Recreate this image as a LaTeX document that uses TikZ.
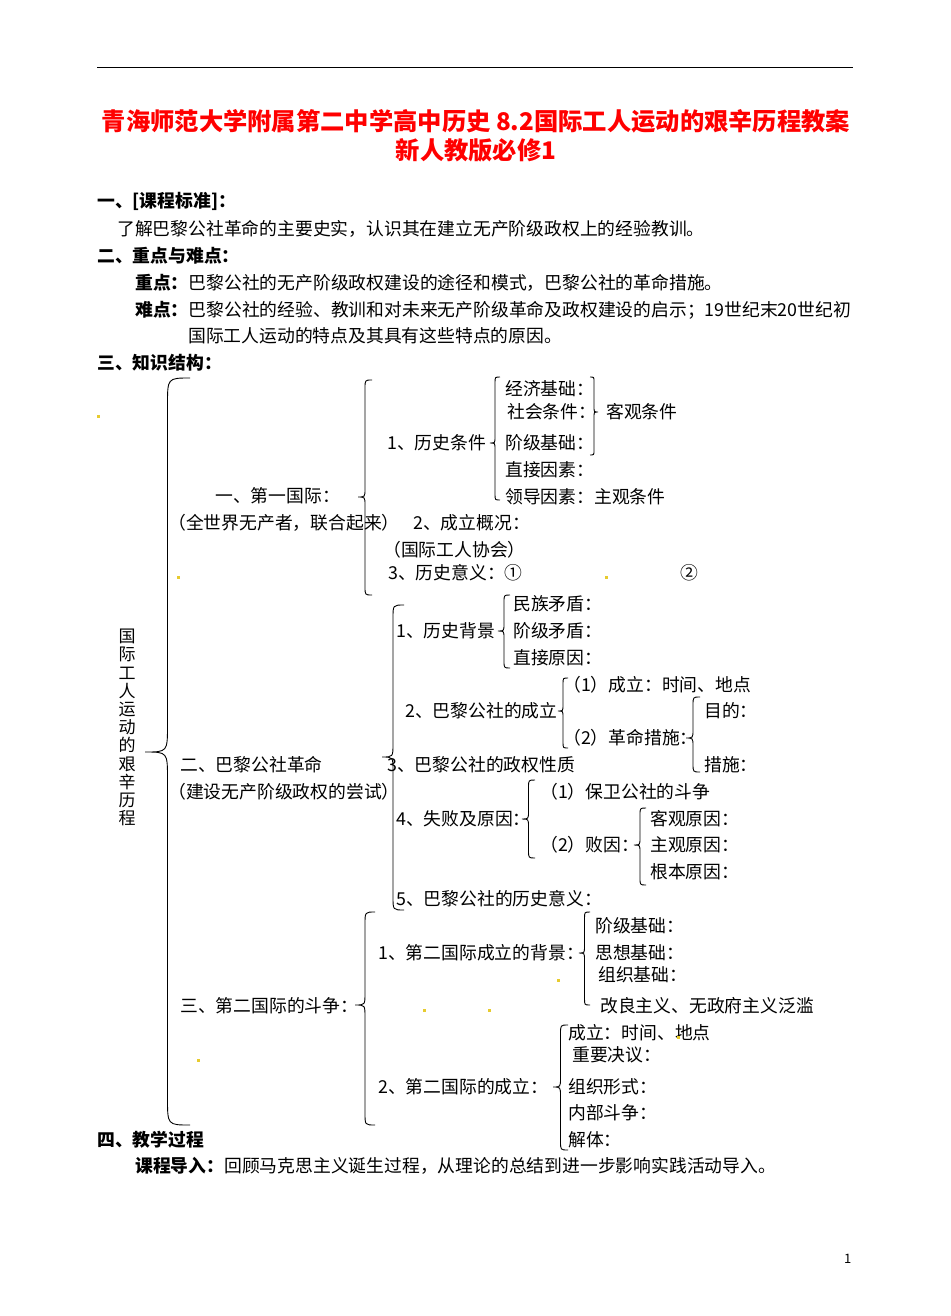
\documentclass[tikz,border=0pt]{standalone}
\usepackage{fontspec}
\setmainfont{Noto Sans CJK SC}
\newcommand{\brc}[5]{% tip x, width (neg = points right), top, tip y, bottom
\draw[line width=0.9pt] ({#1+#2},#3) .. controls ({#1+#2/2},#3) and ({#1+#2/2},#3) .. ({#1+#2/2},{#3+abs(#2)*0.6})
 -- ({#1+#2/2},{#4-abs(#2)*0.6}) .. controls ({#1+#2/2},#4) and ({#1+#2/2},#4) .. (#1,#4)
 .. controls ({#1+#2/2},#4) and ({#1+#2/2},#4) .. ({#1+#2/2},{#4+abs(#2)*0.6})
 -- ({#1+#2/2},{#5-abs(#2)*0.6}) .. controls ({#1+#2/2},#5) and ({#1+#2/2},#5) .. ({#1+#2},#5);}
\begin{document}
\begin{tikzpicture}[x=1pt,y=-1pt,
  t/.style={anchor=west,inner sep=0pt,font=\fontsize{17.8}{19}\selectfont},
  b/.style={t,font=\fontsize{17.8}{19}\selectfont\bfseries},
  dot/.style={fill=yellow!60!brown,draw=none}]
\useasboundingbox[fill=white] (0,0) rectangle (950,1316);
\draw[line width=1pt] (97,68) -- (853,68);
\node[anchor=center,text=red,font=\fontsize{24.3}{28}\selectfont\bfseries] (ti1) at (476,121) {青海师范大学附属第二中学高中历史 8.2国际工人运动的艰辛历程教案};
\node[anchor=center,text=red,font=\fontsize{24.3}{28}\selectfont\bfseries] (ti2) at (476,150) {新人教版必修1};
\node[b] (h1) at (97,201) {一、[课程标准]：};
\node[t] (p1) at (117,229) {了解巴黎公社革命的主要史实，认识其在建立无产阶级政权上的经验教训。};
\node[b] (h2) at (97,256) {二、重点与难点：};
\node[t] (p2) at (135,283) {\bfseries 重点：\mdseries 巴黎公社的无产阶级政权建设的途径和模式，巴黎公社的革命措施。};
\node[t] (p3) at (135,310) {\bfseries 难点：\mdseries 巴黎公社的经验、教训和对未来无产阶级革命及政权建设的启示；19世纪末20世纪初};
\node[t] (p4) at (188,336) {国际工人运动的特点及其具有这些特点的原因。};
\node[b] (h3) at (97,363) {三、知识结构：};
\node[t,anchor=north,align=center,font=\fontsize{17}{18.2}\selectfont] (v) at (127,629) {国\\际\\工\\人\\运\\动\\的\\艰\\辛\\历\\程};
\brc{145}{45}{378}{752}{1125}
% first international
\node[t] (a0) at (215,496) {一、第一国际：};
\node[t] (a0b) at (168,523) {（全世界无产者，联合起来）};
\brc{358}{14}{380}{497}{595}
\node[t] (a1) at (387,443) {1、历史条件};
\brc{490}{10}{377}{443}{500}
\node[t] (a11) at (505,389) {经济基础：};
\node[t] (a12) at (507,412) {社会条件：};
\node[t] (a13) at (505,443) {阶级基础：};
\node[t] (a14) at (505,470) {直接因素：};
\node[t] (a15) at (505,497) {领导因素：主观条件};
\brc{598}{-8}{377}{412}{455}
\node[t] (a16) at (606,412) {客观条件};
\node[t] (a2) at (413,523) {2、成立概况：};
\node[t] (a2b) at (383,550) {（国际工人协会）};
\node[t] (a3) at (388,573) {3、历史意义：①};
\node[t] (a3b) at (680,573) {②};
% paris commune
\node[t] (b0) at (180,765) {二、巴黎公社革命};
\node[t] (b0b) at (168,792) {（建设无产阶级政权的尝试）};
\brc{382}{22}{605}{757}{910}
\node[t] (b1) at (396,631) {1、历史背景};
\brc{498}{12}{595}{631}{668}
\node[t] (b11) at (513,604) {民族矛盾：};
\node[t] (b12) at (513,631) {阶级矛盾：};
\node[t] (b13) at (513,658) {直接原因：};
\node[t] (b2) at (405,711) {2、巴黎公社的成立};
\brc{558}{10}{678}{711}{748}
\node[t] (b21) at (563,685) {（1）成立：时间、地点};
\node[t] (b22) at (563,738) {（2）革命措施：};
\brc{686}{14}{697}{738}{772}
\node[t] (b221) at (704,711) {目的：};
\node[t] (b222) at (704,765) {措施：};
\node[t] (b3) at (387,765) {3、巴黎公社的政权性质};
\node[t] (b4) at (396,819) {4、失败及原因：};
\brc{522}{13}{780}{819}{858}
\node[t] (b41) at (540,792) {（1）保卫公社的斗争};
\node[t] (b42) at (540,845) {（2）败因：};
\brc{634}{12}{808}{845}{885}
\node[t] (b421) at (650,819) {客观原因：};
\node[t] (b422) at (650,845) {主观原因：};
\node[t] (b423) at (650,872) {根本原因：};
\node[t] (b5) at (396,899) {5、巴黎公社的历史意义：};
% second international
\node[t] (c0) at (180,1006) {三、第二国际的斗争：};
\brc{355}{20}{912}{1005}{1125}
\node[t] (c1) at (378,953) {1、第二国际成立的背景：};
\brc{579}{11}{912}{953}{1005}
\node[t] (c11) at (595,926) {阶级基础：};
\node[t] (c12) at (595,953) {思想基础：};
\node[t] (c13) at (598,975) {组织基础：};
\node[t] (c14) at (600,1006) {改良主义、无政府主义泛滥};
\node[t] (c2) at (378,1087) {2、第二国际的成立：};
\brc{553}{15}{1025}{1087}{1150}
\node[t] (c21) at (568,1033) {成立：时间、地点};
\node[t] (c22) at (572,1055) {重要决议：};
\node[t] (c23) at (568,1087) {组织形式：};
\node[t] (c24) at (568,1113) {内部斗争：};
\node[t] (c25) at (568,1140) {解体：};
\node[b] (h4) at (97,1140) {四、教学过程};
\node[t] (p5) at (135,1166) {\bfseries 课程导入：\mdseries 回顾马克思主义诞生过程，从理论的总结到进一步影响实践活动导入。};
\node[t,font=\fontsize{13}{15}\selectfont] (pg) at (844,1259) {1};
\foreach \x/\y in {98/416,178/577,606/577,424/1010,489/1010,558/980,198/1060,678/1037}
  \fill[dot] (\x-1.5,\y-1.5) rectangle (\x+1.5,\y+1.5);
\end{tikzpicture}
\end{document}
